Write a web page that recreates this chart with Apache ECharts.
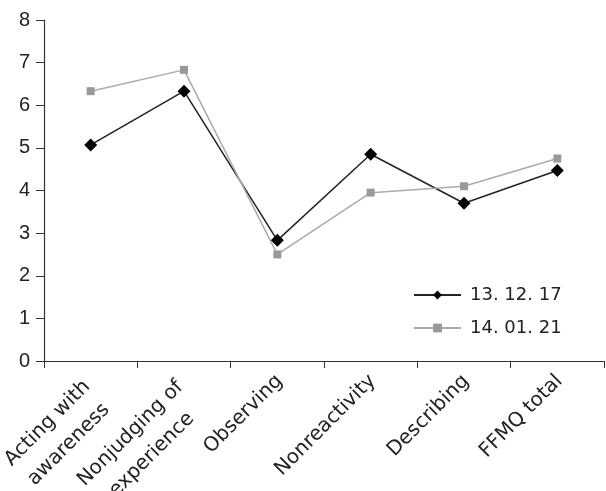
<!DOCTYPE html>
<html>
<head>
<meta charset="UTF-8">
<script src="https://cdn.jsdelivr.net/npm/echarts@6/dist/echarts.min.js"></script>
<style>
  html, body { margin: 0; padding: 0; background: #fff; }
  #main { width: 606px; height: 491px; }
</style>
</head>
<body>
<div id="main"></div>
<script>
  const categories = ['Acting with\nawareness', 'Nonjudging of\nexperience', 'Observing', 'Nonreactivity', 'Describing', 'FFMQ total'];
  const first = [5.07, 6.33, 2.83, 4.85, 3.7, 4.47];
  const second = [6.33, 6.83, 2.5, 3.95, 4.1, 4.75];
  const seriesNames = ['13. 12. 17', '14. 01. 21'];

  let chart = echarts.init(document.getElementById('main'));

  let ctx = document.createElement('canvas').getContext('2d');
  ctx.font = '20px "DejaVu Sans"';

  // width of the longest line of a label
  function boxWidth(value) {
    let lines = value.split('\n');
    return Math.ceil(Math.max.apply(null, lines.map(l => ctx.measureText(l).width)));
  }

  // first line sits tight to the axis, later lines 30px apart, centred on each other
  let rich = {};
  categories.forEach((c, i) => {
    let multi = c.indexOf('\n') >= 0;
    let base = { fontFamily: 'DejaVu Sans', fontSize: 20, color: '#222' };
    if (multi) {
      let w = boxWidth(c) + 16;
      rich['a' + i] = Object.assign({ width: w, align: 'center', lineHeight: 20 }, base);
      rich['b' + i] = Object.assign({ width: w, align: 'center', lineHeight: 40 }, base);
    } else {
      rich['a' + i] = Object.assign({ lineHeight: 20 }, base);
    }
  });

  let option = {
    animation: false,
    grid: { left: 44, right: 2, top: 20, bottom: 130, outerBoundsMode: 'none', containLabel: false },
    legend: {
      orient: 'vertical',
      left: 408,
      top: 281,
      itemWidth: 47,
      itemHeight: 11,
      itemGap: 15,
      textStyle: { fontFamily: 'DejaVu Sans', fontSize: 18, color: '#222', padding: [0, 0, 0, 4] },
      data: seriesNames
    },
    xAxis: {
      type: 'category',
      data: categories,
      boundaryGap: true,
      axisLine: { lineStyle: { color: '#333', width: 1.2 } },
      axisTick: { show: true, inside: false, length: 7, lineStyle: { color: '#333' } },
      axisLabel: {
        interval: 0,
        rotate: 45,
        margin: 5,
        padding: [0, 7, 0, 0],
        align: 'right',
        verticalAlign: 'top',
        formatter: function (value, index) {
          let lines = value.split('\n');
          return lines.map((l, k) => '{' + (k === 0 ? 'a' : 'b') + index + '|' + l + '}').join('\n');
        },
        rich: rich
      }
    },
    yAxis: {
      type: 'value',
      min: 0,
      max: 8,
      interval: 1,
      splitLine: { show: false },
      axisLine: { show: true, lineStyle: { color: '#333', width: 1.2 } },
      axisTick: { show: true, length: 8, lineStyle: { color: '#333' } },
      axisLabel: { fontFamily: 'Liberation Sans', fontSize: 20, color: '#222', margin: 14 }
    },
    series: [
      {
        name: seriesNames[0],
        type: 'line',
        data: first,
        symbol: 'diamond',
        symbolSize: 13,
        itemStyle: { color: '#000' },
        lineStyle: { color: '#222', width: 1.5 }
      },
      {
        name: seriesNames[1],
        type: 'line',
        data: second,
        symbol: 'rect',
        symbolSize: 8,
        itemStyle: { color: '#999' },
        lineStyle: { color: '#aaa', width: 1.5 }
      }
    ]
  };

  chart.setOption(option);
</script>
</body>
</html>
